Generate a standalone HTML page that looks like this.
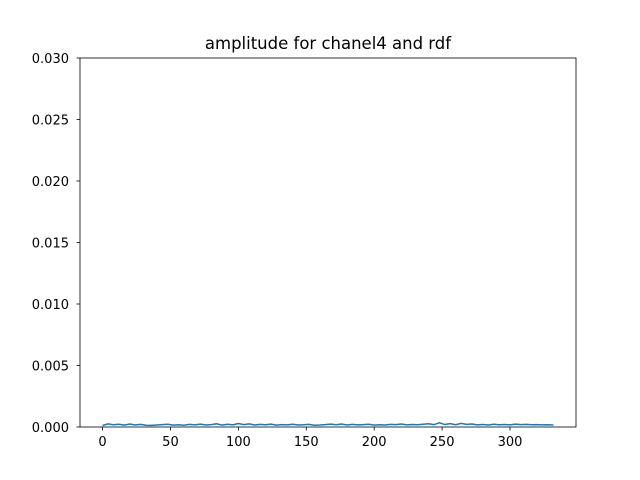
<!DOCTYPE html>
<html><head><meta charset="utf-8"><style>
body{margin:0;background:#fff;}
svg{display:block;font-family:"DejaVu Sans","Liberation Sans",sans-serif;}
</style></head><body>
<svg id="chart" width="640" height="480">
<rect x="0" y="0" width="640" height="480" fill="#fff"/>
<text x="328" y="49" font-size="16.5" text-anchor="middle">amplitude for chanel4 and rdf</text>
<g id="plot"></g>
<rect x="80" y="58" width="496" height="369" fill="none" stroke="#000" stroke-width="0.8"/>
</svg>
<script>
const xTicks=[0,50,100,150,200,250,300];
const yTicks=[0,0.005,0.010,0.015,0.020,0.025,0.030];
const yTickLabels=["0.000","0.005","0.010","0.015","0.020","0.025","0.030"];
const sampleIdx=[0,4,8,12,16,20,24,28,32,36,40,44,48,52,56,60,64,68,72,76,80,84,88,92,96,100,104,108,112,116,120,124,128,132,136,140,144,148,152,156,160,164,168,172,176,180,184,188,192,196,200,204,208,212,216,220,224,228,232,236,240,244,248,252,256,260,264,268,272,276,280,284,288,292,296,300,304,308,312,316,320,324,328,332];
const amplitude=[0.00012,0.00025,0.00018,0.00022,0.00015,0.00024,0.00016,0.00021,0.00014,0.00013,0.00016,0.00019,0.00022,0.00015,0.00018,0.00014,0.00021,0.00017,0.00023,0.00016,0.00019,0.00026,0.00015,0.00022,0.00017,0.00028,0.00019,0.00025,0.00016,0.00021,0.00018,0.00023,0.00015,0.00019,0.00017,0.00022,0.00016,0.00018,0.00021,0.00014,0.00016,0.00019,0.00023,0.00018,0.00024,0.00016,0.00021,0.00017,0.00019,0.00022,0.00015,0.00018,0.00016,0.00021,0.00019,0.00024,0.00017,0.00020,0.00018,0.00022,0.00026,0.00019,0.00034,0.00020,0.00027,0.00018,0.00029,0.00021,0.00024,0.00017,0.00020,0.00016,0.00022,0.00018,0.00020,0.00017,0.00023,0.00019,0.00021,0.00018,0.00019,0.00017,0.00018,0.00016];
const L=80,R=576,T=58,B=427;
const xMin=-16.6,xMax=348.6,yMin=0,yMax=0.03;
const xs=v=>L+(v-xMin)/(xMax-xMin)*(R-L);
const ys=v=>B-(v-yMin)/(yMax-yMin)*(B-T);
const NS="http://www.w3.org/2000/svg";
const g=document.getElementById('plot');
function mk(t,a){const e=document.createElementNS(NS,t);for(const k in a)e.setAttribute(k,a[k]);g.appendChild(e);return e;}
xTicks.forEach(v=>{
 const l=mk('line',{x1:xs(v),x2:xs(v),y1:B,y2:B+3.5,stroke:'#000','stroke-width':0.8});
 
 
 const t=mk('text',{x:xs(v),y:B+19,'font-size':13,'text-anchor':'middle'});t.textContent=v;
 
 
});
yTicks.forEach((v,i)=>{
 const l=mk('line',{x1:L-3.5,x2:L,y1:ys(v),y2:ys(v),stroke:'#000','stroke-width':0.8});
 
 
 const t=mk('text',{x:L-11,y:ys(v)+5,'font-size':13,'text-anchor':'end'});t.textContent=yTickLabels[i];
 
 
});
const p=mk('polyline',{points:sampleIdx.map((x,i)=>xs(x)+','+ys(amplitude[i])).join(' '),fill:'none',stroke:'#1f77b4','stroke-width':1.5});


</script>
</body></html>
